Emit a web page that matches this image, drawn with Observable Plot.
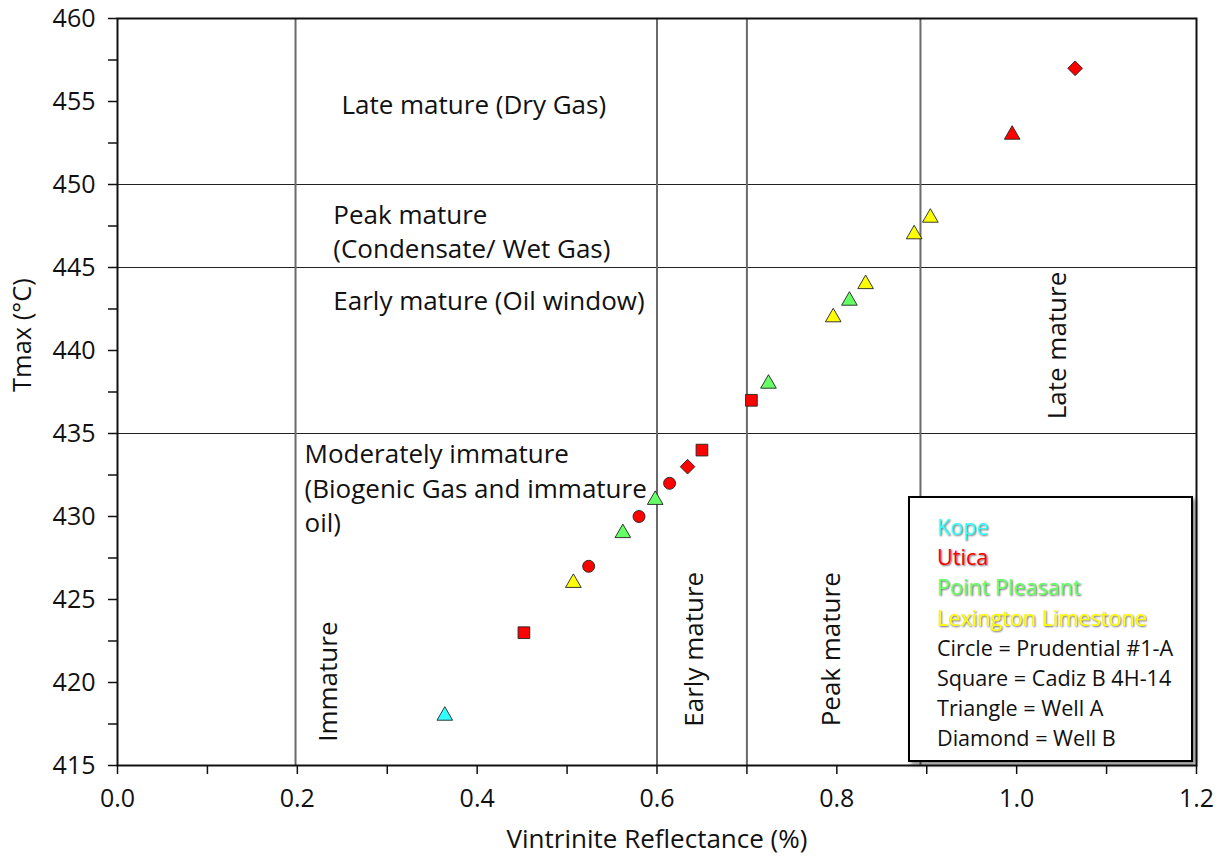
<!DOCTYPE html>
<html><head><meta charset="utf-8">
<script src="https://cdn.jsdelivr.net/npm/d3@7"></script>
<script src="https://cdn.jsdelivr.net/npm/@observablehq/plot@0.6"></script>
<style>
body{margin:0;background:#fff;font-family:"Open Sans",sans-serif;}
#wrap{position:relative;width:1225px;height:867px;overflow:hidden;}
#legend{position:absolute;left:908px;top:496px;width:285px;height:266px;box-sizing:border-box;border:2px solid #000;background:#fff;box-shadow:3px 3px 4px rgba(0,0,0,0.45);padding:14px 0 0 27px;font-size:21.6px;line-height:30.2px;color:#111;}
#legend div{white-space:nowrap;}
#legend .f{text-shadow:1px 1px 2px rgba(0,0,0,0.6);}
</style>
</head><body>
<div id="wrap"></div>
<script>
// ---- data ----
const formation = ["Kope","Utica","Lexington Limestone","Utica","Point Pleasant","Utica","Point Pleasant","Utica","Utica","Utica","Utica","Point Pleasant","Lexington Limestone","Point Pleasant","Lexington Limestone","Lexington Limestone","Lexington Limestone","Utica","Utica"];
const shape = ["triangle","square","triangle","circle","triangle","circle","triangle","circle","diamond","square","square","triangle","triangle","triangle","triangle","triangle","triangle","triangle","diamond"];
const ro = [0.364,0.452,0.507,0.524,0.562,0.580,0.598,0.614,0.634,0.650,0.705,0.724,0.796,0.814,0.832,0.886,0.904,0.995,1.065];
const tmax = [418,423,426,427,429,430,431,432,433,434,437,438,442,443,444,447,448,453,457];

const formationNames = ["Kope","Utica","Point Pleasant","Lexington Limestone"];
const formationColors = ["#33ffff","#ff0000","#66ff66","#ffff00"];
const shapeKeys = ["circle","square","triangle","diamond"];
const shapeLabels = ["Circle","Square","Triangle","Diamond"];
const wellNames = ["Prudential #1-A","Cadiz B 4H-14","Well A","Well B"];

const xTicks = [0,0.2,0.4,0.6,0.8,1.0,1.2];
const xMinor = [0.1,0.3,0.5,0.7,0.9,1.1];
const yTicks = [415,420,425,430,435,440,445,450,455,460];
const yMinor = [417.5,422.5,427.5,432.5,437.5,442.5,447.5,452.5,457.5];

const zoneY = [435,445,450];
const zoneX = [0.198,0.6,0.7,0.893];

const hText = ["Late mature (Dry Gas)","Peak mature\n(Condensate/ Wet Gas)","Early mature (Oil window)","Moderately immature\n(Biogenic Gas and immature\noil)"];
const hX = [0.249,0.240,0.240,0.208];
const hY = [454.9,447.26,443.1,431.8];

const vText = ["Immature","Early mature","Peak mature","Late mature"];
const vX = [0.235,0.642,0.794,1.046];
const vY = [420.05,422,422,440.3];

const xLabel = "Vintrinite Reflectance (%)";
const yLabel = "Tmax (°C)";

// ---- build ----
const points = ro.map((x,i)=>({ro:x,tmax:tmax[i],formation:formation[i],shape:shape[i]}));
const hAnn = hText.map((t,i)=>({t,x:hX[i],y:hY[i]}));
const vAnn = vText.map((t,i)=>({t,x:vX[i],y:vY[i]}));

const symbolFor = {circle:"circle",square:"square",triangle:"triangle",diamond:"diamond2"};
const rFor = {circle:6.0,square:6.6,triangle:5.8,diamond:6.6};

const dotMarks = shapeKeys.map(s => Plot.dot(points, {
  filter: d => d.shape === s,
  x: "ro", y: "tmax", fill: "formation",
  symbol: symbolFor[s], r: rFor[s],
  stroke: "#222", strokeWidth: 0.9
}));

const chart = Plot.plot({
  width: 1225, height: 867,
  marginLeft: 117, marginRight: 29, marginTop: 18, marginBottom: 102,
  style: {fontFamily: "'Open Sans', sans-serif", fontSize: "25px", color: "#111", background: "#fff"},
  x: {domain: [0, 1.2]},
  y: {domain: [415, 460]},
  color: {domain: formationNames, range: formationColors},
  marks: [
    Plot.ruleY(zoneY, {stroke: "#222", strokeWidth: 1.2}),
    Plot.ruleX(zoneX, {stroke: "#6a6a6a", strokeWidth: 2}),
    Plot.frame({stroke: "#111", strokeWidth: 2}),
    Plot.axisY({ticks: yTicks, tickSize: 9, tickPadding: 13, tickFormat: d3.format("d"), label: null, strokeWidth: 1.5}),
    Plot.axisY({ticks: yMinor, tickSize: 9, tickFormat: () => "", label: null, strokeWidth: 1.5}),
    Plot.axisX({ticks: xTicks, tickSize: 9, tickPadding: 15, tickFormat: d3.format(".1f"), label: null, strokeWidth: 1.5}),
    Plot.axisX({ticks: xMinor, tickSize: 9, tickFormat: () => "", label: null, strokeWidth: 1.5}),
    Plot.text([yLabel], {text: d => d, frameAnchor: "left", rotate: -90, dx: -95, fontSize: 25.5}),
    Plot.text([xLabel], {text: d => d, frameAnchor: "bottom", dy: 82, fontSize: 26}),
    Plot.text(hAnn, {x: "x", y: "y", text: "t", textAnchor: "start", lineAnchor: "middle", lineHeight: 1.32, fontSize: 26, fill: "#111"}),
    Plot.text(vAnn, {x: "x", y: "y", text: "t", rotate: -90, fontSize: 26, fill: "#111"}),
    ...dotMarks
  ]
});
const wrap = document.getElementById("wrap");
wrap.appendChild(chart);

// legend overlay (HTML)
const legend = document.createElement("div");
legend.id = "legend";
formationNames.forEach((n,i)=>{
  const d = document.createElement("div");
  d.className = "f"; d.textContent = n; d.style.color = formationColors[i];
  legend.appendChild(d);
});
shapeLabels.forEach((s,i)=>{
  const d = document.createElement("div");
  d.textContent = s + " = " + wellNames[i];
  legend.appendChild(d);
});
wrap.appendChild(legend);
</script>
</body></html>
